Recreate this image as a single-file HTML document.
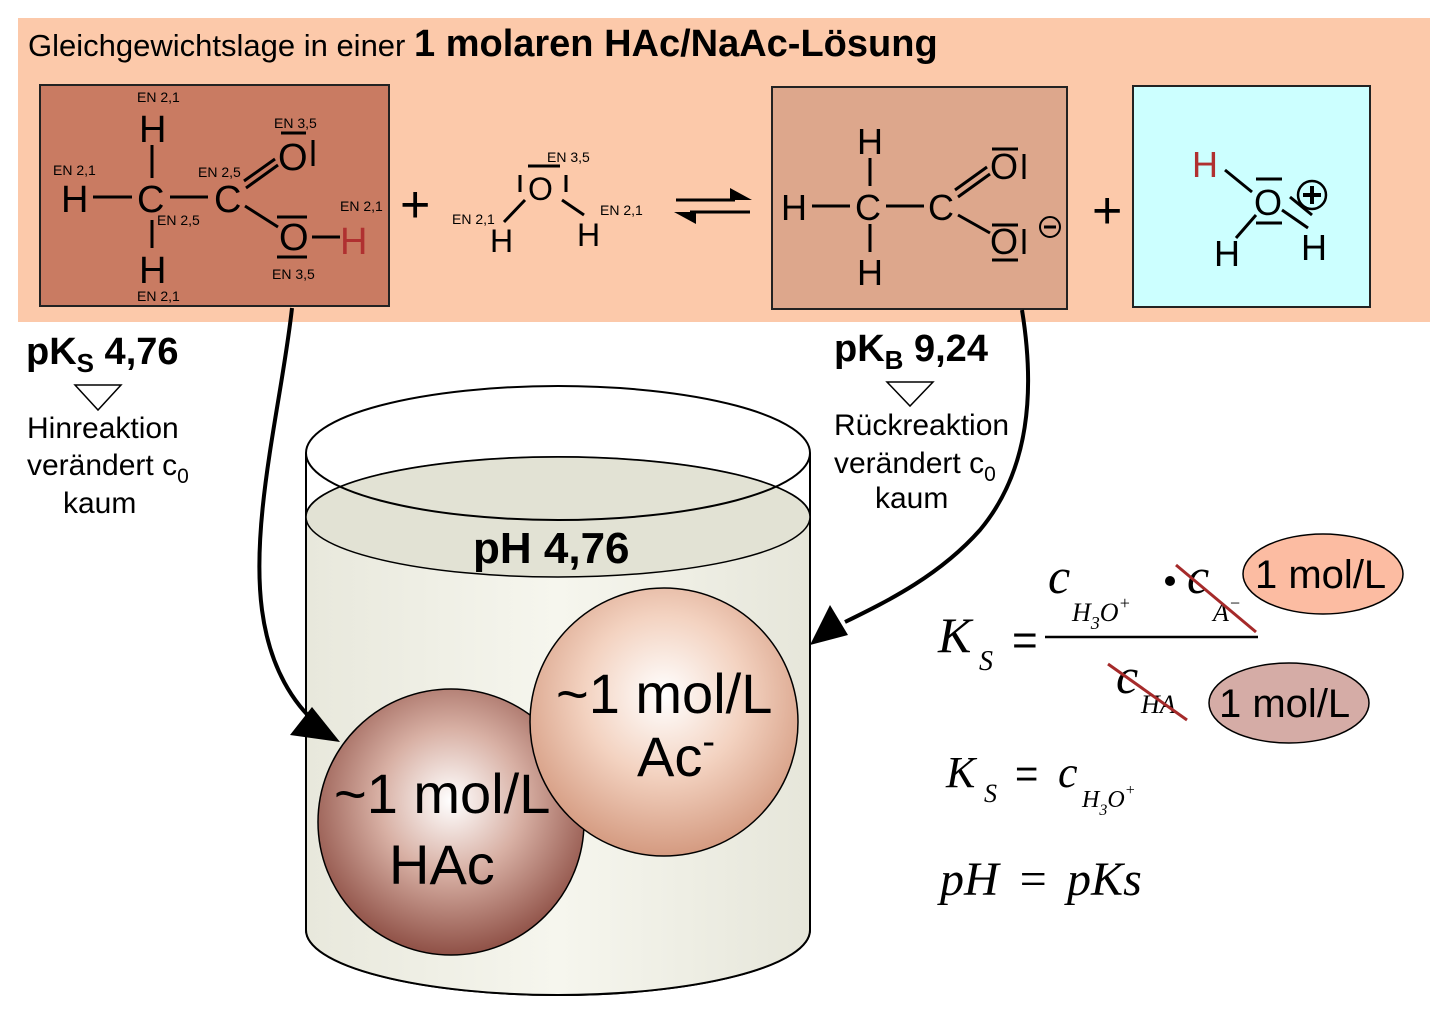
<!DOCTYPE html>
<html><head><meta charset="utf-8"><style>
body{margin:0;background:#fff}
svg{display:block}
text{font-family:"Liberation Sans",Arial,sans-serif}
.s{font-family:"Liberation Serif",serif;font-style:italic}
</style></head><body>
<svg width="1447" height="1015" viewBox="0 0 1447 1015" xmlns="http://www.w3.org/2000/svg">
<defs>
<radialGradient id="g1" cx="0.5" cy="0.42" r="0.6"><stop offset="0" stop-color="#fff"/><stop offset="0.45" stop-color="#d8b0a4"/><stop offset="1" stop-color="#8a4a40"/></radialGradient>
<radialGradient id="g2" cx="0.5" cy="0.4" r="0.6"><stop offset="0" stop-color="#fff"/><stop offset="0.5" stop-color="#f3d2c0"/><stop offset="1" stop-color="#d49a80"/></radialGradient>
<linearGradient id="cyl" x1="0" x2="1"><stop offset="0" stop-color="#e8e8dc"/><stop offset="0.5" stop-color="#f6f6ee"/><stop offset="1" stop-color="#e6e6da"/></linearGradient>
</defs>
<rect x="18" y="18" width="1412" height="304" fill="#FCC9AA"/>
<text x="28" y="56" font-size="31">Gleichgewichtslage in einer <tspan font-weight="bold" font-size="38">1 molaren HAc/NaAc-Lösung</tspan></text>

<!-- box1 -->
<rect x="40" y="85" width="349" height="221" fill="#C97B62" stroke="#222" stroke-width="2"/>
<g font-size="14">
<text x="137" y="102">EN 2,1</text><text x="53" y="175">EN 2,1</text><text x="198" y="177">EN 2,5</text>
<text x="157" y="225">EN 2,5</text><text x="274" y="128">EN 3,5</text><text x="340" y="211">EN 2,1</text>
<text x="272" y="279">EN 3,5</text><text x="137" y="301">EN 2,1</text>
</g>
<g font-size="38">
<text x="139" y="142">H</text><text x="61" y="212">H</text><text x="137" y="212">C</text><text x="214" y="212">C</text>
<text x="139" y="283">H</text><text x="278" y="170">O</text><text x="279" y="250">O</text>
<text x="340" y="254" fill="#B03030">H</text>
</g>
<g stroke="#000" stroke-width="3" fill="none">
<line x1="152" y1="145" x2="152" y2="178"/><line x1="152" y1="220" x2="152" y2="248"/>
<line x1="93" y1="197" x2="132" y2="197"/><line x1="170" y1="197" x2="208" y2="197"/>
<line x1="246" y1="188" x2="278" y2="165"/>
<line x1="244" y1="181" x2="275" y2="159"/>
<line x1="245" y1="206" x2="278" y2="227"/><line x1="312" y1="237" x2="340" y2="237"/>
<line x1="281" y1="133" x2="306" y2="133"/><line x1="313" y1="140" x2="313" y2="166"/>
<line x1="277" y1="217" x2="307" y2="217"/><line x1="277" y1="257" x2="307" y2="257"/>
</g>
<text x="400" y="222" font-size="52">+</text>

<!-- water -->
<g font-size="14"><text x="547" y="162">EN 3,5</text><text x="452" y="224">EN 2,1</text><text x="600" y="215">EN 2,1</text></g>
<g font-size="32"><text x="528" y="200">O</text><text x="490" y="252">H</text><text x="577" y="246">H</text></g>
<g stroke="#000" stroke-width="3"><line x1="528" y1="166" x2="560" y2="166"/><line x1="520" y1="175" x2="520" y2="192"/><line x1="566" y1="175" x2="566" y2="192"/>
<line x1="525" y1="200" x2="504" y2="222"/><line x1="562" y1="200" x2="584" y2="215"/></g>
<!-- eq arrows -->
<g stroke="#000" stroke-width="3"><line x1="676" y1="200" x2="735" y2="200"/><line x1="690" y1="212" x2="750" y2="212"/></g>
<polygon points="752,200 730,188 730,200" fill="#000"/><polygon points="674,212 696,224 696,212" fill="#000"/>

<!-- box2 -->
<rect x="772" y="87" width="295" height="222" fill="#DDA78C" stroke="#222" stroke-width="2"/>
<g font-size="36">
<text x="857" y="154">H</text><text x="781" y="220">H</text><text x="855" y="220">C</text><text x="928" y="220">C</text>
<text x="857" y="285">H</text><text x="990" y="179">O</text><text x="990" y="254">O</text>
</g>
<g stroke="#000" stroke-width="3" fill="none">
<line x1="870" y1="158" x2="870" y2="186"/><line x1="870" y1="224" x2="870" y2="252"/>
<line x1="812" y1="206" x2="850" y2="206"/><line x1="886" y1="206" x2="924" y2="206"/>
<line x1="958" y1="197" x2="990" y2="174"/><line x1="955" y1="190" x2="987" y2="167"/>
<line x1="958" y1="215" x2="990" y2="233"/>
<line x1="992" y1="149" x2="1018" y2="149"/><line x1="1024" y1="154" x2="1024" y2="179"/>
<line x1="992" y1="225" x2="1018" y2="225"/><line x1="992" y1="260" x2="1018" y2="260"/><line x1="1024" y1="229" x2="1024" y2="254"/>
<circle cx="1050" cy="227" r="10" stroke-width="2"/><line x1="1044" y1="227" x2="1056" y2="227"/>
</g>
<text x="1092" y="228" font-size="52">+</text>

<!-- box3 -->
<rect x="1133" y="86" width="237" height="221" fill="#CCFFFF" stroke="#222" stroke-width="2"/>
<g font-size="36"><text x="1192" y="177" fill="#B03030">H</text><text x="1254" y="215">O</text><text x="1214" y="266">H</text><text x="1301" y="260">H</text></g>
<g stroke="#000" stroke-width="3" fill="none">
<line x1="1225" y1="170" x2="1252" y2="192"/><line x1="1256" y1="215" x2="1236" y2="238"/><line x1="1282" y1="210" x2="1308" y2="228"/>
<line x1="1290" y1="197" x2="1312" y2="215"/>
<line x1="1256" y1="179" x2="1282" y2="179"/><line x1="1256" y1="223" x2="1282" y2="223"/>
<circle cx="1312" cy="195" r="14" stroke-width="2.5"/><line x1="1303" y1="195" x2="1321" y2="195" stroke-width="4"/><line x1="1312" y1="186" x2="1312" y2="204" stroke-width="4"/>
</g>

<!-- left labels -->
<text x="26" y="364" font-size="38" font-weight="bold">pK<tspan font-size="26" dy="8">S</tspan><tspan dy="-8"> 4,76</tspan></text>
<polygon points="75,385 121,385 98,410" fill="#fff" stroke="#000" stroke-width="1.5"/>
<g font-size="30"><text x="27" y="438">Hinreaktion</text><text x="27" y="475">verändert c<tspan font-size="21" dy="8">0</tspan></text><text x="63" y="513">kaum</text></g>
<text x="834" y="361" font-size="38" font-weight="bold">pK<tspan font-size="26" dy="8">B</tspan><tspan dy="-8"> 9,24</tspan></text>
<polygon points="887,382 933,382 910,406" fill="#fff" stroke="#000" stroke-width="1.5"/>
<g font-size="30"><text x="834" y="435">Rückreaktion</text><text x="834" y="473">verändert c<tspan font-size="21" dy="8">0</tspan></text><text x="875" y="508">kaum</text></g>

<!-- cylinder -->
<path d="M306,453 L306,930 A252,65 0 0 0 810,930 L810,453" fill="#fff" stroke="#000" stroke-width="2"/>
<path d="M306,517 L306,930 A252,65 0 0 0 810,930 L810,517 A252,60 0 0 0 306,517 Z" fill="url(#cyl)" stroke="#000" stroke-width="2"/>
<ellipse cx="558" cy="517" rx="252" ry="60" fill="#e2e2d4" stroke="#000" stroke-width="1.5"/>
<ellipse cx="558" cy="453" rx="252" ry="67" fill="none" stroke="#000" stroke-width="2"/>
<text x="473" y="563" font-size="44" font-weight="bold">pH 4,76</text>

<circle cx="451" cy="822" r="133" fill="url(#g1)" stroke="#000" stroke-width="1.5"/>
<text x="334" y="813" font-size="56">~1 mol/L</text><text x="389" y="884" font-size="56">HAc</text>
<circle cx="664" cy="722" r="134" fill="url(#g2)" stroke="#000" stroke-width="1.5"/>
<text x="556" y="713" font-size="56">~1 mol/L</text><text x="637" y="776" font-size="56">Ac<tspan font-size="38" dy="-22">-</tspan></text>

<!-- arrows -->
<path d="M292,308 C282,400 250,520 262,610 C270,670 295,705 318,725" fill="none" stroke="#000" stroke-width="4"/>
<polygon points="340,742 290,735 312,707" fill="#000"/>
<path d="M1022,310 C1035,390 1030,470 980,530 C940,575 890,600 845,622" fill="none" stroke="#000" stroke-width="4"/>
<polygon points="810,645 830,605 848,635" fill="#000"/>

<!-- formulas -->
<text class="s" x="938" y="652" font-size="50">K</text><text class="s" x="979" y="670" font-size="28">S</text>
<text x="1012" y="655" font-size="44" font-family="Liberation Serif">=</text>
<line x1="1045" y1="637" x2="1258" y2="637" stroke="#000" stroke-width="2.5"/>
<text class="s" x="1048" y="593" font-size="50">c</text>
<text class="s" x="1072" y="621" font-size="26">H<tspan dy="8" font-size="18">3</tspan><tspan dy="-8">O</tspan><tspan dy="-12" font-size="18">+</tspan></text>
<circle cx="1170" cy="581" r="5" fill="#000"/>
<text class="s" x="1187" y="593" font-size="50">c</text><text class="s" x="1213" y="621" font-size="26">A<tspan dy="-12" font-size="18">−</tspan></text>
<line x1="1176" y1="565" x2="1256" y2="632" stroke="#A52A2A" stroke-width="3"/>
<text class="s" x="1116" y="693" font-size="50">c</text><text class="s" x="1141" y="713" font-size="26">HA</text>
<line x1="1108" y1="664" x2="1187" y2="720" stroke="#A52A2A" stroke-width="3"/>
<ellipse cx="1323" cy="574" rx="80" ry="40" fill="#FCBCA2" stroke="#000" stroke-width="1.5"/>
<text x="1255" y="588" font-size="40">1 mol/L</text>
<ellipse cx="1289" cy="703" rx="80" ry="40" fill="#D5ACA6" stroke="#000" stroke-width="1.5"/>
<text x="1219" y="717" font-size="40">1 mol/L</text>
<text class="s" x="946" y="787" font-size="44">K</text><text class="s" x="984" y="802" font-size="26">S</text>
<text x="1015" y="787" font-size="40" font-family="Liberation Serif">=</text>
<text class="s" x="1058" y="787" font-size="44">c</text>
<text class="s" x="1082" y="807" font-size="24">H<tspan dy="8" font-size="16">3</tspan><tspan dy="-8">O</tspan><tspan dy="-12" font-size="16">+</tspan></text>
<text class="s" x="940" y="895" font-size="48" word-spacing="6">pH = pKs</text>
</svg>
</body></html>
